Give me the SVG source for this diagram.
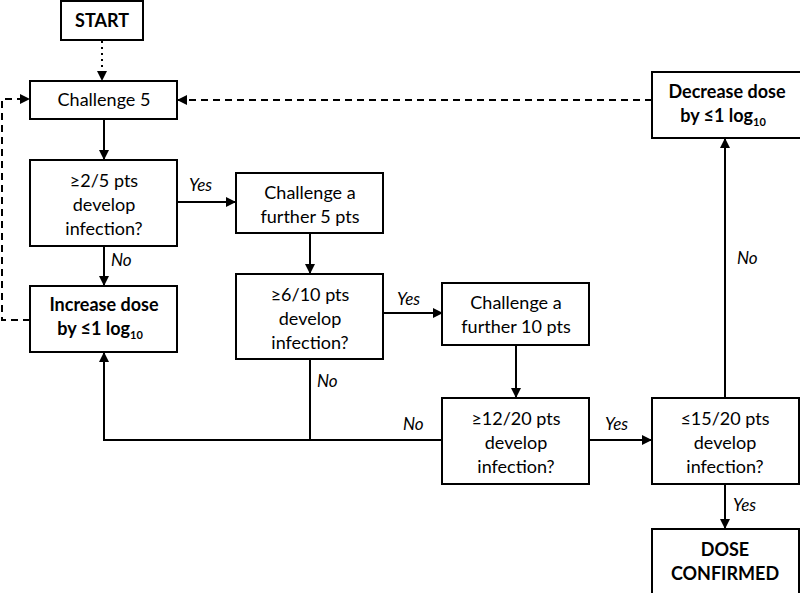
<svg xmlns="http://www.w3.org/2000/svg" width="800" height="593" viewBox="0 0 800 593">
<style>
.box{fill:#fff;stroke:#000;stroke-width:2}
text{font-family:Lato,"Open Sans","Liberation Sans",sans-serif;font-size:18px;fill:#000;text-anchor:middle}
.b{font-weight:bold}
.lbl{font-style:italic;text-anchor:start;font-size:17px}
.c{fill:none;stroke:#000;stroke-width:2}
.dash{stroke-dasharray:7,5}
.dot{stroke-dasharray:2,4}
</style>
<defs>
<marker id="ah" markerWidth="10" markerHeight="10" refX="9" refY="5" orient="auto" markerUnits="userSpaceOnUse">
<path d="M0,0 L10,5 L0,10 Z" fill="#000"/>
</marker>
</defs>
<rect width="800" height="593" fill="#fff"/>
<g id="connectors">
<path class="c dot" d="M102,41 V80" marker-end="url(#ah)"/>
<path class="c" d="M104,119 V159" marker-end="url(#ah)"/>
<path class="c" d="M104,246 V285" marker-end="url(#ah)"/>
<path class="c" d="M177,202 H235" marker-end="url(#ah)"/>
<path class="c" d="M310,233 V273" marker-end="url(#ah)"/>
<path class="c" d="M383,313 H442" marker-end="url(#ah)"/>
<path class="c" d="M516,345 V397" marker-end="url(#ah)"/>
<path class="c" d="M310,359 V440"/>
<path class="c" d="M442,440 H104 V353" marker-end="url(#ah)"/>
<path class="c" d="M589,440 H651" marker-end="url(#ah)"/>
<path class="c" d="M725,484 V528" marker-end="url(#ah)"/>
<path class="c" d="M725,398 V139" marker-end="url(#ah)"/>
<path class="c dash" d="M652,100 H178" marker-end="url(#ah)"/>
<path class="c dash" d="M30,320 H2 V99 H29" marker-end="url(#ah)"/>
<text class="lbl" x="189" y="191">Yes</text>
<text class="lbl" x="111" y="266">No</text>
<text class="lbl" x="397" y="305">Yes</text>
<text class="lbl" x="317" y="387">No</text>
<text class="lbl" x="403" y="430">No</text>
<text class="lbl" x="605" y="430">Yes</text>
<text class="lbl" x="737" y="264">No</text>
<text class="lbl" x="733" y="511">Yes</text>
</g>
<g id="start"><rect class="box" x="61" y="1" width="82" height="39"/><text class="b" x="102" y="27">START</text></g>
<g id="challenge5"><rect class="box" x="30" y="81" width="147" height="38"/><text x="104" y="106">Challenge 5</text></g>
<g id="q1"><rect class="box" x="30" y="160" width="147" height="86"/><text x="104" y="187">≥2/5 pts</text><text x="104" y="211">develop</text><text x="104" y="235">infection?</text></g>
<g id="increase"><rect class="box" x="30" y="286" width="147" height="66"/><text class="b" x="104" y="311">Increase dose</text><text class="b" x="100" y="335">by ≤1 log<tspan font-size="11" dy="4">10</tspan></text></g>
<g id="challenge5more"><rect class="box" x="236" y="173" width="147" height="60"/><text x="310" y="199">Challenge a</text><text x="310" y="223">further 5 pts</text></g>
<g id="q2"><rect class="box" x="236" y="274" width="147" height="85"/><text x="310" y="301">≥6/10 pts</text><text x="310" y="325">develop</text><text x="310" y="349">infection?</text></g>
<g id="challenge10more"><rect class="box" x="442" y="283" width="147" height="62"/><text x="516" y="309">Challenge a</text><text x="516" y="333">further 10 pts</text></g>
<g id="q3"><rect class="box" x="442" y="398" width="147" height="86"/><text x="516" y="425">≥12/20 pts</text><text x="516" y="449">develop</text><text x="516" y="473">infection?</text></g>
<g id="q4"><rect class="box" x="652" y="398" width="147" height="86"/><text x="725" y="425">≤15/20 pts</text><text x="725" y="449">develop</text><text x="725" y="473">infection?</text></g>
<g id="decrease"><rect class="box" x="652" y="72" width="150" height="66"/><text class="b" x="727" y="98">Decrease dose</text><text class="b" x="723" y="122">by ≤1 log<tspan font-size="11" dy="4">10</tspan></text></g>
<g id="confirmed"><rect class="box" x="652" y="529" width="147" height="65"/><text class="b" x="725" y="556">DOSE</text><text class="b" x="725" y="580">CONFIRMED</text></g>
</svg>
